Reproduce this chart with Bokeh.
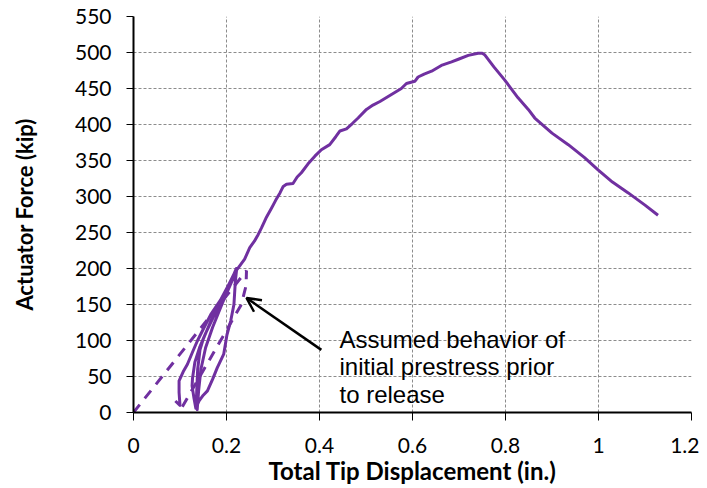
from bokeh.plotting import figure
from bokeh.models import FixedTicker, Arrow, OpenHead, Label, Range1d
from bokeh.embed import file_html
from bokeh.resources import INLINE

# ---------------- data ----------------
x_ticks = [0, 0.2, 0.4, 0.6, 0.8, 1.0, 1.2]
x_tick_labels = ["0", "0.2", "0.4", "0.6", "0.8", "1", "1.2"]
y_ticks = [0, 50, 100, 150, 200, 250, 300, 350, 400, 450, 500, 550]

# measured response (cycles, then loading to failure)
disp = [0.090, 0.100, 0.098, 0.098, 0.108, 0.116, 0.127, 0.137, 0.151, 0.166, 0.187, 0.205, 0.216, 0.221,
        0.212, 0.200, 0.185, 0.170, 0.155, 0.142, 0.132, 0.127, 0.126, 0.130, 0.134,
        0.141, 0.150, 0.159, 0.170, 0.180, 0.194, 0.201, 0.209, 0.216, 0.219, 0.222,
        0.205, 0.185, 0.165, 0.150, 0.143, 0.138, 0.136, 0.135, 0.137,
        0.140, 0.145, 0.155, 0.170, 0.190, 0.210, 0.222, 0.230, 0.239, 0.250, 0.260, 0.268, 0.275,
        0.285, 0.297, 0.306, 0.315, 0.322, 0.329, 0.343, 0.352, 0.361, 0.375, 0.390, 0.404, 0.422,
        0.435, 0.444, 0.458, 0.470, 0.483, 0.501, 0.515, 0.530, 0.553, 0.576, 0.587, 0.605, 0.612,
        0.625, 0.641, 0.662, 0.684, 0.700, 0.720, 0.741, 0.750, 0.755, 0.775, 0.798, 0.827, 0.849,
        0.863, 0.900, 0.935, 0.970, 0.999, 1.030, 1.064, 1.100, 1.128]
force = [16, 10, 28, 44, 58, 67, 84, 99, 117, 136, 156, 178, 192, 200,
         186, 170, 150, 130, 110, 90, 70, 48, 37, 20, 6,
         16, 24, 30, 46, 62, 81, 108, 127, 150, 182, 200,
         178, 152, 125, 102, 87, 60, 30, 12, 4,
         30, 60, 90, 118, 150, 180, 198, 205, 213, 229, 238, 247, 256,
         270, 284, 295, 305, 314, 317, 318, 327, 333, 345, 356, 365, 372,
         383, 391, 394, 401, 409, 421, 427, 432, 441, 450, 457, 460, 466,
         470, 474, 482, 487, 491, 496, 499, 499, 497, 480, 462, 437, 421,
         409, 388, 372, 354, 337, 320, 305, 288, 274]

# assumed behaviour of initial prestress prior to release (dashed)
prestress_disp = [0.0, 0.243, 0.242, 0.232, 0.105]
prestress_force = [0, 197, 176, 150, 8]

annotation_lines = ["Assumed behavior of", "initial prestress prior", "to release"]

# ---------------- figure ----------------
PURPLE = "#7030A0"

p = figure(frame_width=558, frame_height=396,
           min_border_left=133, min_border_right=8, min_border_top=16, min_border_bottom=66,
           x_range=Range1d(0, 1.2), y_range=Range1d(0, 550),
           output_backend="svg", toolbar_location=None)
p.outline_line_color = None
p.background_fill_color = "white"
p.border_fill_color = "white"

for g in (p.xgrid, p.ygrid):
    g.grid_line_color = "#8c8c8c"
    g.grid_line_dash = "3 2"
    g.grid_line_width = 1

p.xaxis.ticker = FixedTicker(ticks=x_ticks)
p.xaxis.major_label_overrides = {t: l for t, l in zip(x_ticks, x_tick_labels)}
p.yaxis.ticker = FixedTicker(ticks=y_ticks)

for ax in (p.xaxis, p.yaxis):
    ax.axis_line_color = "black"
    ax.axis_line_width = 2
    ax.major_tick_line_color = "black"
    ax.major_tick_line_width = 1
    ax.major_tick_in = 0
    ax.minor_tick_line_color = None
    ax.major_label_text_font = "Lato"
    ax.major_label_text_font_size = "21px"
    ax.major_label_text_color = "black"
    ax.axis_label_text_font = "Lato"
    ax.axis_label_text_font_style = "bold"
    ax.axis_label_text_color = "black"

p.xaxis.major_tick_out = 8
p.xaxis.major_label_standoff = 17
p.xaxis.axis_label = "Total Tip Displacement (in.)"
p.xaxis.axis_label_text_font_size = "24px"
p.xaxis.axis_label_standoff = 0

p.yaxis.major_tick_out = 7
p.yaxis.major_label_standoff = 15
p.yaxis.axis_label = "Actuator Force (kip)"
p.yaxis.axis_label_text_font_size = "22px"
p.yaxis.axis_label_standoff = 34

p.line(prestress_disp, prestress_force, line_color=PURPLE, line_width=3, line_dash="10 8")
p.line(disp, force, line_color=PURPLE, line_width=3, line_join="round")

p.add_layout(Arrow(end=OpenHead(size=14, line_width=2.5, line_color="black"),
                   x_start=0.404, y_start=87, x_end=0.243, y_end=159,
                   line_width=2.5, line_color="black"))

for i, txt in enumerate(annotation_lines):
    p.add_layout(Label(x=0.443, y=101.4 - i * 38.2, text=txt,
                       text_font="Liberation Sans", text_font_size="24px",
                       text_color="black", text_baseline="alphabetic"))

open("out.html", "w").write(file_html(p, INLINE))
